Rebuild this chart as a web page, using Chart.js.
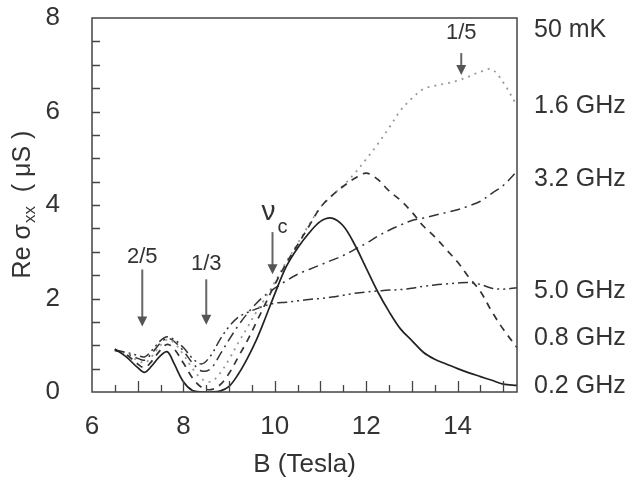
<!DOCTYPE html>
<html>
<head>
<meta charset="utf-8">
<script src="https://cdn.jsdelivr.net/npm/chart.js@4/dist/chart.umd.min.js"></script>
<style>
  html, body { margin: 0; padding: 0; background: #fff; }
  #wrap { width: 628px; height: 482px; }
</style>
</head>
<body>
<div id="wrap"><canvas id="c" width="628" height="482"></canvas></div>
<script>
// ---- data ----
const fieldB = [6.5, 6.75, 7.0, 7.15, 7.3, 7.5, 7.65, 7.8, 8.0, 8.2, 8.4, 8.6, 8.8, 9.0, 9.2, 9.4, 9.6, 9.8, 10.0, 10.25, 10.5, 10.75, 11.0, 11.25, 11.5, 11.75, 12.0, 12.25, 12.5, 12.75, 13.0, 13.25, 13.5, 13.75, 14.0, 14.25, 14.5, 14.75, 15.0, 15.3];
const sigma02 = [0.92, 0.75, 0.52, 0.42, 0.55, 0.78, 0.86, 0.6, 0.22, 0.03, 0.0, 0.0, 0.02, 0.12, 0.38, 0.72, 1.12, 1.6, 2.1, 2.68, 3.08, 3.4, 3.65, 3.72, 3.55, 3.15, 2.65, 2.15, 1.72, 1.35, 1.1, 0.85, 0.7, 0.6, 0.5, 0.41, 0.33, 0.25, 0.17, 0.14];
const sigma08 = [0.9, 0.8, 0.6, 0.52, 0.65, 0.9, 1.02, 0.92, 0.62, 0.3, 0.1, 0.05, 0.15, 0.4, 0.75, 1.1, 1.5, 1.9, 2.3, 2.75, 3.15, 3.55, 3.95, 4.2, 4.4, 4.57, 4.68, 4.55, 4.3, 4.1, 3.85, 3.55, 3.32, 3.05, 2.78, 2.45, 2.15, 1.72, 1.34, 0.95];
const sigma16 = [0.88, 0.8, 0.68, 0.62, 0.75, 1.0, 1.12, 1.05, 0.8, 0.5, 0.28, 0.22, 0.4, 0.7, 1.05, 1.38, 1.72, 2.02, 2.35, 2.78, 3.18, 3.58, 3.95, 4.2, 4.42, 4.68, 4.98, 5.3, 5.65, 6.02, 6.28, 6.48, 6.55, 6.6, 6.66, 6.75, 6.85, 6.9, 6.62, 6.12];
const sigma32 = [0.9, 0.82, 0.72, 0.68, 0.82, 1.05, 1.15, 1.08, 0.88, 0.62, 0.45, 0.5, 0.8, 1.12, 1.42, 1.68, 1.9, 2.08, 2.22, 2.38, 2.52, 2.62, 2.72, 2.82, 2.92, 3.05, 3.18, 3.33, 3.46, 3.57, 3.67, 3.72, 3.78, 3.84, 3.9, 3.98, 4.08, 4.25, 4.42, 4.72];
const sigma50 = [0.9, 0.85, 0.78, 0.75, 0.88, 1.1, 1.18, 1.12, 0.95, 0.72, 0.6, 0.78, 1.12, 1.4, 1.6, 1.7, 1.78, 1.85, 1.9, 1.92, 1.95, 1.98, 2.0, 2.03, 2.07, 2.11, 2.14, 2.16, 2.18, 2.19, 2.22, 2.26, 2.29, 2.31, 2.33, 2.34, 2.3, 2.22, 2.2, 2.23];

const xTickLabels = [6, 8, 10, 12, 14];
const yTickLabels = [0, 2, 4, 6, 8];
const curveLabels = ['50 mK', '1.6 GHz', '3.2 GHz', '5.0 GHz', '0.8 GHz', '0.2 GHz'];
const curveLabelLevels = [7.75, 6.11, 4.56, 2.15, 1.16, 0.12];

const arrowTexts = ['2/5', '1/3', 'ν', '1/5'];
const arrowField = [7.1, 8.5, 9.95, 14.08];
const arrowTop = [2.62, 2.41, 3.42, 7.25];
const arrowTip = [1.4, 1.44, 2.52, 6.78];
const arrowTextLevel = [2.88, 2.73, 3.85, 7.68];

// ---- drawing ----
const FONT = "'Liberation Sans', Arial, Helvetica, sans-serif";
const TXT = '#333';

function pts(vals) { return fieldB.map((b, i) => ({ x: b, y: vals[i] })); }

const frame = {
  id: 'frame',
  afterDatasetsDraw(chart) {
    const { ctx, chartArea: a, scales } = chart;
    const xs = scales.x, ys = scales.y;
    ctx.save();
    ctx.strokeStyle = '#444';
    ctx.lineWidth = 1.5;
    ctx.strokeRect(a.left, a.top, a.right - a.left, a.bottom - a.top);
    ctx.lineWidth = 1.3;
    ctx.beginPath();
    for (let v = xs.min + 0.5; v < xs.max; v += 0.5) {
      const px = Math.round(xs.getPixelForValue(v)) + 0.5;
      const len = Number.isInteger(v) ? 11 : 7;
      ctx.moveTo(px, a.bottom); ctx.lineTo(px, a.bottom - len);
    }
    for (let v = ys.min + 0.5; v < ys.max; v += 0.5) {
      const py = Math.round(ys.getPixelForValue(v)) + 0.5;
      ctx.moveTo(a.left, py); ctx.lineTo(a.left + 8, py);
    }
    ctx.stroke();

    // arrows with labels
    ctx.fillStyle = TXT;
    ctx.font = '22px ' + FONT;
    ctx.textAlign = 'center';
    ctx.textBaseline = 'middle';
    arrowTexts.forEach((t, i) => {
      const px = xs.getPixelForValue(arrowField[i]);
      const y0 = ys.getPixelForValue(arrowTop[i]);
      const y1 = ys.getPixelForValue(arrowTip[i]);
      ctx.strokeStyle = '#666';
      ctx.lineWidth = 2;
      ctx.beginPath(); ctx.moveTo(px, y0); ctx.lineTo(px, y1 - 8); ctx.stroke();
      ctx.fillStyle = '#555';
      ctx.beginPath(); ctx.moveTo(px - 5, y1 - 10); ctx.lineTo(px + 5, y1 - 10); ctx.lineTo(px, y1); ctx.closePath(); ctx.fill();
      ctx.fillStyle = TXT;
      const ty = ys.getPixelForValue(arrowTextLevel[i]);
      if (t === 'ν') {
        ctx.font = '28px ' + FONT;
        ctx.fillText('ν', px - 4, ty);
        ctx.font = '20px ' + FONT;
        ctx.fillText('c', px + 10, ty + 15);
        ctx.font = '22px ' + FONT;
      } else {
        ctx.fillText(t, px, ty);
      }
    });

    // y-axis title with subscript
    ctx.save();
    ctx.translate(23, (a.top + a.bottom) / 2);
    ctx.rotate(-Math.PI / 2);
    ctx.textAlign = 'left';
    ctx.textBaseline = 'middle';
    const big = '25px ' + FONT, small = '17px ' + FONT;
    ctx.font = big; const w1 = ctx.measureText('Re σ').width;
    ctx.font = small; const w2 = ctx.measureText('xx').width;
    ctx.font = big; const w3 = ctx.measureText('  ( μS )').width;
    let x0 = -(w1 + w2 + w3) / 2;
    ctx.font = big; ctx.fillText('Re σ', x0, 0);
    ctx.font = small; ctx.fillText('xx', x0 + w1 + 1, 7);
    ctx.font = big; ctx.fillText('  ( μS )', x0 + w1 + w2 + 1, 0);
    ctx.restore();
    ctx.restore();
  }
};

const common = { pointRadius: 0, tension: 0.35, fill: false, borderCapStyle: 'butt' };

function fixV(w) { return s => { s.width = w; s.paddingTop = 0; s.paddingBottom = 0; }; }

new Chart(document.getElementById('c'), {
  type: 'line',
  data: {
    datasets: [
      { ...common, label: '0.2 GHz', data: pts(sigma02), borderColor: '#222', borderWidth: 1.7, borderDash: [] },
      { ...common, label: '0.8 GHz', data: pts(sigma08), borderColor: '#333', borderWidth: 1.7, borderDash: [7, 6] },
      { ...common, label: '1.6 GHz', data: pts(sigma16), borderColor: '#9a9a9a', borderWidth: 1.8, borderDash: [2, 5] },
      { ...common, label: '3.2 GHz', data: pts(sigma32), borderColor: '#333', borderWidth: 1.5, borderDash: [10, 5, 2, 5] },
      { ...common, label: '5.0 GHz', data: pts(sigma50), borderColor: '#333', borderWidth: 1.5, borderDash: [10, 4, 2, 4, 2, 4] }
    ]
  },
  options: {
    responsive: false,
    animation: false,
    layout: { padding: { top: 18, left: 0, right: 0, bottom: 0 } },
    plugins: { legend: { display: false }, tooltip: { enabled: false } },
    scales: {
      x: {
        type: 'linear', min: 6, max: 15.3,
        afterBuildTicks: ax => { ax.ticks = xTickLabels.map(v => ({ value: v })); },
        afterFit: s => { s.height = 90; s.paddingLeft = 0; s.paddingRight = 0; },
        grid: { display: false }, border: { display: false },
        ticks: { font: { family: FONT, size: 26 }, color: TXT, padding: 11, maxRotation: 0, autoSkip: false },
        title: { display: true, text: 'B (Tesla)', font: { family: FONT, size: 26 }, color: TXT, padding: { top: 0, bottom: 2 } }
      },
      y: {
        type: 'linear', min: 0, max: 8, position: 'left',
        afterBuildTicks: ax => { ax.ticks = yTickLabels.map(v => ({ value: v })); },
        afterFit: fixV(92),
        grid: { display: false }, border: { display: false },
        ticks: { font: { family: FONT, size: 26 }, color: TXT, padding: 24 }
      },
      y2: {
        type: 'linear', min: 0, max: 8, position: 'right',
        afterBuildTicks: ax => { ax.ticks = curveLabelLevels.map(v => ({ value: v })); },
        afterFit: fixV(111),
        grid: { display: false }, border: { display: false },
        ticks: { font: { family: FONT, size: 25 }, color: TXT, padding: 9, callback: (v, i) => curveLabels[i] }
      }
    }
  },
  plugins: [frame]
});
</script>
</body>
</html>
